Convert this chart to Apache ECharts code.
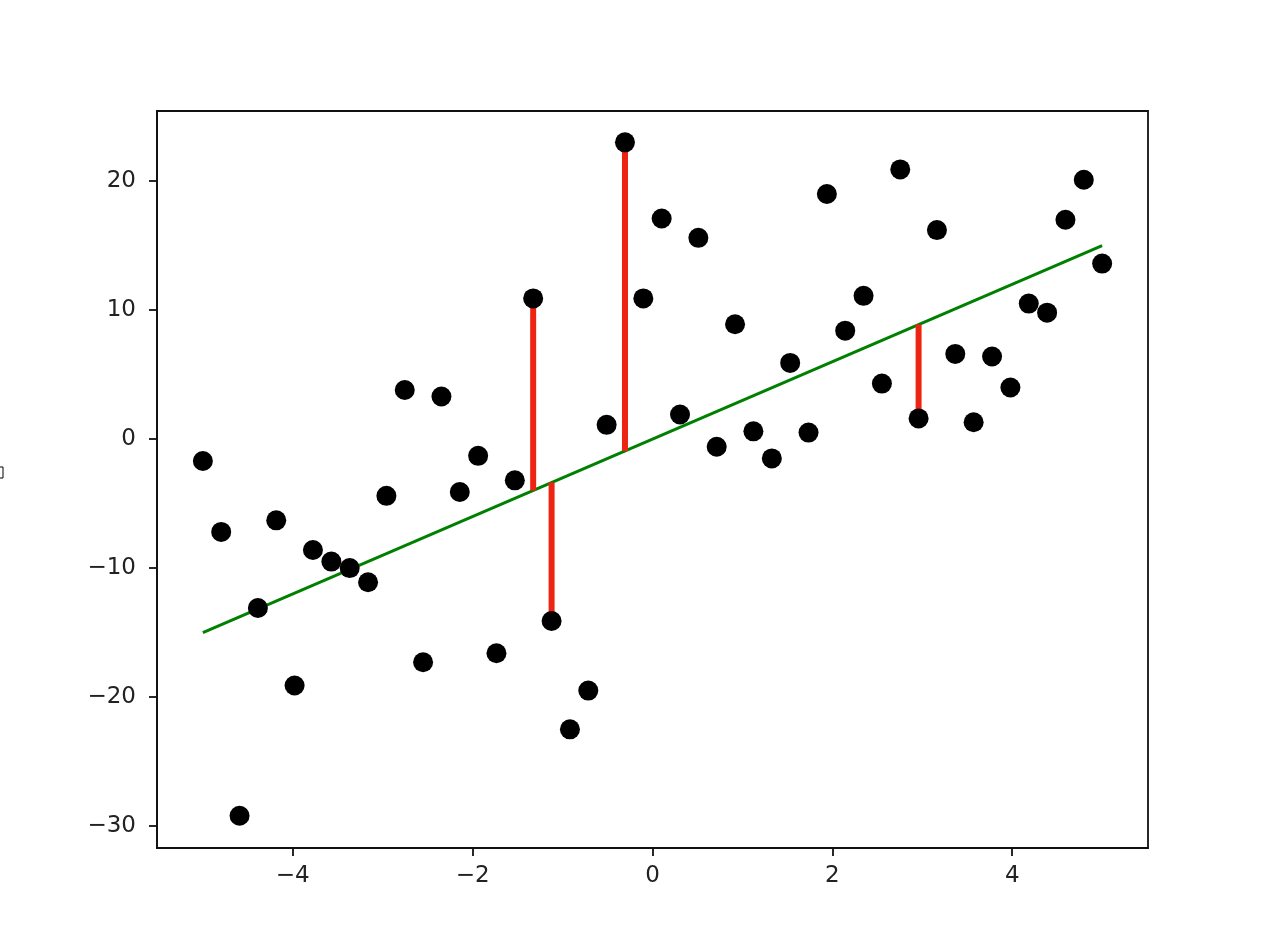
<!DOCTYPE html>
<html>
<head>
<meta charset="utf-8">
<script src="https://cdn.jsdelivr.net/npm/echarts@6/dist/echarts.min.js"></script>
<style>html,body{margin:0;padding:0;background:#fff;}#c{width:1268px;height:948px;}</style>
</head>
<body>
<div id="c"></div>
<script>
// Data
const xValues = [-5.000,-4.796,-4.592,-4.388,-4.184,-3.980,-3.776,-3.571,-3.367,-3.163,
  -2.959,-2.755,-2.551,-2.347,-2.143,-1.939,-1.735,-1.531,-1.327,-1.122,
  -0.918,-0.714,-0.510,-0.306,-0.102,0.102,0.306,0.510,0.714,0.918,
  1.122,1.327,1.531,1.735,1.939,2.143,2.347,2.551,2.755,2.959,
  3.163,3.367,3.571,3.776,3.980,4.184,4.388,4.592,4.796,5.000];
const yValues = [-1.7,-7.2,-29.2,-13.1,-6.3,-19.1,-8.6,-9.5,-10.0,-11.1,
  -4.4,3.8,-17.3,3.3,-4.1,-1.3,-16.6,-3.2,10.9,-14.1,
  -22.5,-19.5,1.1,23.0,10.9,17.1,1.9,15.6,-0.6,8.9,
  0.6,-1.5,5.9,0.5,19.0,8.4,11.1,4.3,20.9,1.6,
  16.2,6.6,1.3,6.4,4.0,10.5,9.8,17.0,20.1,13.6];
const fitX = [-5, 5];
const fitY = [-15, 15];
// residual segments: x, point y, fitted y
const resX = [-1.327, -1.122, -0.306, 2.959];
const resPointY = [10.9, -14.1, 23.0, 1.6];
const resFitY = [-3.98, -3.37, -0.92, 8.88];
const xTicks = [-4, -2, 0, 2, 4];
const yTicks = [-30, -20, -10, 0, 10, 20];

const fmt = v => String(v).replace('-', '\u2212');
const labelStyle = {fontFamily: 'DejaVu Sans', fontSize: 23, color: '#222'};
const axisCol = '#111';

const series = [];
series.push({
  type: 'line', data: fitX.map((x, i) => [x, fitY[i]]), symbol: 'none',
  lineStyle: {color: '#008000', width: 3}, z: 2, silent: true
});
resX.forEach((x, i) => {
  series.push({
    type: 'line', data: [[x, resPointY[i]], [x, resFitY[i]]], symbol: 'none',
    lineStyle: {color: '#ee2412', width: 6}, z: 3, silent: true
  });
});
series.push({
  type: 'scatter', data: xValues.map((x, i) => [x, yValues[i]]),
  symbol: 'circle', symbolSize: 20, itemStyle: {color: '#000', opacity: 1}, z: 4
});

const chart = echarts.init(document.getElementById('c'), null, {renderer: 'canvas'});
chart.setOption({
  animation: false,
  backgroundColor: '#fff',
  grid: {left: 157, top: 111, right: 120, bottom: 100, show: true, borderColor: axisCol, borderWidth: 1.8, backgroundColor: 'transparent'},
  xAxis: {
    type: 'value', min: -5.51, max: 5.51,
    axisLine: {show: true, onZero: false, lineStyle: {color: axisCol, width: 1.8}}, splitLine: {show: false},
    axisTick: {show: true, length: 8, lineStyle: {color: axisCol, width: 1.8}, customValues: xTicks},
    axisLabel: Object.assign({margin: 17, formatter: fmt, customValues: xTicks}, labelStyle)
  },
  yAxis: {
    type: 'value', min: -31.7, max: 25.43,
    axisLine: {show: true, onZero: false, lineStyle: {color: axisCol, width: 1.8}}, splitLine: {show: false},
    axisTick: {show: true, length: 8, lineStyle: {color: axisCol, width: 1.8}, customValues: yTicks},
    axisLabel: Object.assign({margin: 21, formatter: fmt, customValues: yTicks}, labelStyle)
  },
  graphic: [{type: 'rect', shape: {x: -3, y: 467, width: 6, height: 11}, style: {fill: 'none', stroke: '#000', lineWidth: 1}}],
  series: series
});
</script>
</body>
</html>
